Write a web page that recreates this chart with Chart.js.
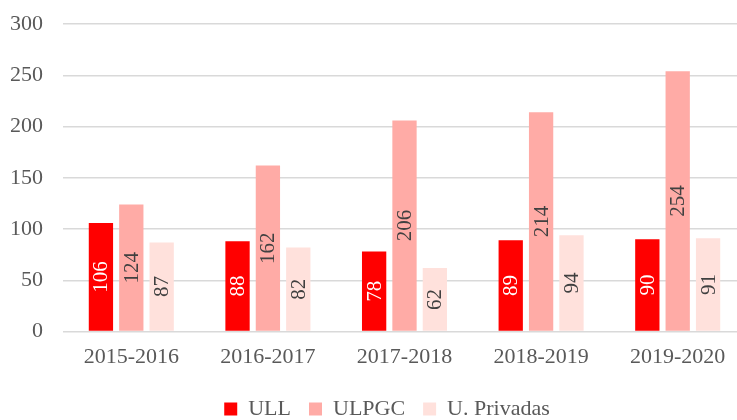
<!DOCTYPE html>
<html lang="es">
<head>
<meta charset="UTF-8">
<title>Alumnos por universidad</title>
<script src="https://cdn.jsdelivr.net/npm/chart.js"></script>
<style>
    html, body { margin: 0; padding: 0; background: #fff; overflow: hidden; }
    #caja { width: 774px; height: 420px; }
</style>
</head>
<body>
<div id="caja"><canvas id="grafico" width="774" height="420"></canvas></div>
<script>
    const cursos = ["2015-2016", "2016-2017", "2017-2018", "2018-2019", "2019-2020"];
    const ull = [106, 88, 78, 89, 90];
    const ulpgc = [124, 162, 206, 214, 254];
    const privadas = [87, 82, 62, 94, 91];

    const fuente = "'Liberation Serif', 'DejaVu Serif', serif";
    const gris = "#595959";

    // etiquetas giradas dentro de cada barra
    const etiquetas = {
        id: "etiquetas",
        afterDatasetsDraw(chart) {
            const ctx = chart.ctx;
            chart.data.datasets.forEach(function(ds, i) {
                const meta = chart.getDatasetMeta(i);
                meta.data.forEach(function(bar, j) {
                    const y = (bar.y + bar.base) / 2;
                    ctx.save();
                    ctx.translate(bar.x, y);
                    ctx.rotate(-Math.PI / 2);
                    ctx.font = "21px " + fuente;
                    ctx.fillStyle = ds.colorEtiqueta;
                    ctx.textAlign = "center";
                    ctx.textBaseline = "middle";
                    ctx.fillText(ds.data[j], 0, 1);
                    ctx.restore();
                });
            });
        }
    };

    // la leyenda va algo a la derecha
    const moverLeyenda = {
        id: "moverLeyenda",
        afterLayout(chart) {
            chart.legend.left += 9;
            chart.legend.right += 9;
        }
    };

    new Chart(document.getElementById("grafico"), {
        type: "bar",
        data: {
            labels: cursos,
            datasets: [
                { label: "ULL", data: ull, backgroundColor: "#FF0000", colorEtiqueta: "#FFFFFF" },
                { label: "ULPGC", data: ulpgc, backgroundColor: "#FFABA6", colorEtiqueta: "#404040" },
                { label: "U. Privadas", data: privadas, backgroundColor: "#FFE1DC", colorEtiqueta: "#404040" }
            ]
        },
        options: {
            responsive: false,
            animation: false,
            categoryPercentage: 0.667,
            barPercentage: 0.8,
            layout: { padding: { left: 10, right: 28, top: 24, bottom: -10 } },
            plugins: {
                legend: {
                    position: "bottom",
                    labels: {
                        boxWidth: 13,
                        boxHeight: 13,
                        padding: 18,
                        color: gris,
                        font: { family: fuente, size: 22 }
                    }
                },
                tooltip: { enabled: false }
            },
            scales: {
                x: {
                    grid: { display: false },
                    border: { display: false },
                    ticks: { color: gris, padding: 4, font: { family: fuente, size: 22 } },
                    afterFit(scale) { scale.height += 6; }
                },
                y: {
                    min: 0,
                    max: 300,
                    grid: { color: "#D9D9D9", lineWidth: 1.5, drawTicks: false },
                    border: { display: false },
                    ticks: { stepSize: 50, color: gris, padding: 20, font: { family: fuente, size: 22 } },
                    afterFit(scale) {
                        scale.width = 53;
                        scale.paddingTop = 0;
                        scale.paddingBottom = 0;
                    }
                }
            }
        },
        plugins: [etiquetas, moverLeyenda]
    });
</script>
</body>
</html>
